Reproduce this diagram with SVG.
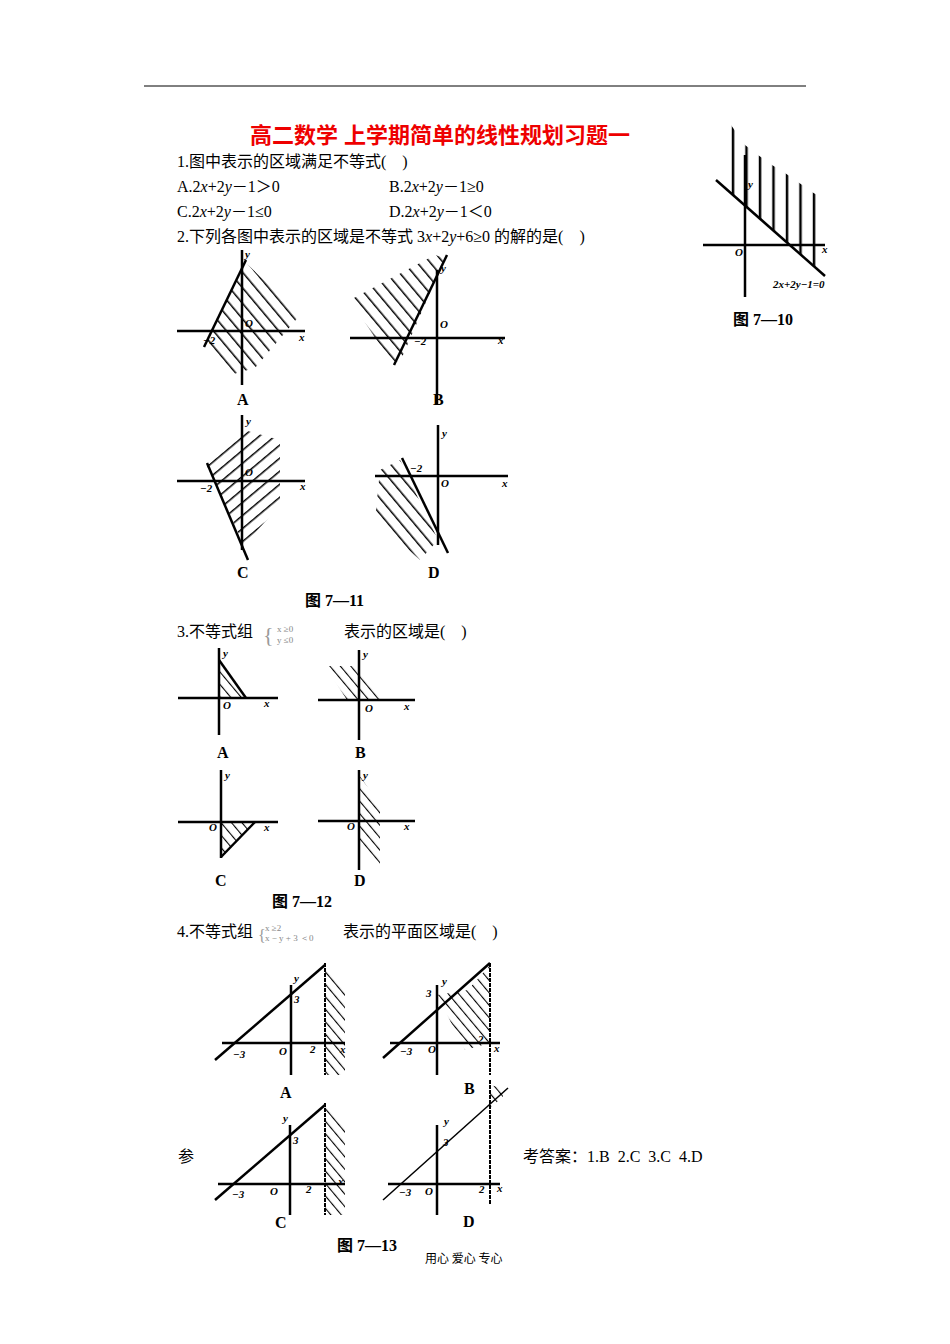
<svg xmlns="http://www.w3.org/2000/svg" width="950" height="1344" viewBox="0 0 950 1344" xml:space="preserve">
<style>
.t{font-family:"Liberation Serif","Noto Sans CJK SC",serif;font-size:16px;fill:#000;white-space:pre}
.ax{stroke:#000;stroke-width:2.5;fill:none}
.ln{stroke:#000;stroke-width:2.5;fill:none}
.lb{font-family:"Liberation Serif",serif;font-size:11px;font-weight:bold;font-style:italic;fill:#000}
.cap{font-family:"Liberation Serif","Noto Sans CJK SC",serif;font-size:16px;font-weight:bold;fill:#000}
.sm{font-family:"Liberation Serif",serif;font-size:9px;fill:#888}
</style>
<defs>
<pattern id="hb" width="10" height="10" patternUnits="userSpaceOnUse" patternTransform="rotate(-40)"><line x1="0" y1="0" x2="0" y2="10" stroke="#000" stroke-width="3"/></pattern>
<pattern id="hs" width="8" height="8" patternUnits="userSpaceOnUse" patternTransform="rotate(-40)"><line x1="0" y1="0" x2="0" y2="8" stroke="#000" stroke-width="2.2"/></pattern>
<pattern id="hf" width="10" height="10" patternUnits="userSpaceOnUse" patternTransform="rotate(50)"><line x1="0" y1="0" x2="0" y2="10" stroke="#000" stroke-width="3"/></pattern>
<pattern id="hv" width="13.5" height="10" patternUnits="userSpaceOnUse"><line x1="4" y1="0" x2="4" y2="10" stroke="#000" stroke-width="2.5"/></pattern>
</defs>
<rect width="950" height="1344" fill="#fff"/>
<line x1="144" y1="86" x2="806" y2="86" stroke="#000" stroke-width="1"/>
<text x="440" y="143" text-anchor="middle" font-family="Liberation Sans,Noto Sans CJK SC,sans-serif" font-size="22" font-weight="bold" fill="#e00">高二数学 上学期简单的线性规划习题一</text>
<text class="t" x="177" y="167">1.图中表示的区域满足不等式(    )</text>
<text class="t" x="177" y="192">A.2<tspan font-style="italic">x</tspan>+2<tspan font-style="italic">y</tspan>－1＞0</text>
<text class="t" x="389" y="192">B.2<tspan font-style="italic">x</tspan>+2<tspan font-style="italic">y</tspan>－1≥0</text>
<text class="t" x="177" y="217">C.2<tspan font-style="italic">x</tspan>+2<tspan font-style="italic">y</tspan>－1≤0</text>
<text class="t" x="389" y="217">D.2<tspan font-style="italic">x</tspan>+2<tspan font-style="italic">y</tspan>－1＜0</text>
<text class="t" x="177" y="242">2.下列各图中表示的区域是不等式 3<tspan font-style="italic">x</tspan>+2<tspan font-style="italic">y</tspan>+6≥0 的解的是(    )</text>

<g id="fig7-10">
<polygon points="731,125 731,193 825,275 825,200 812,192 798,182 785,173 772,165 758,155 745,145" fill="url(#hv)"/>
<line class="ax" x1="703" y1="245" x2="825" y2="245"/>
<line class="ax" x1="745" y1="155" x2="745" y2="297"/>
<line class="ln" x1="716" y1="180" x2="825" y2="276"/>
<text class="lb" x="735" y="256">O</text><text class="lb" x="822" y="253">x</text><text class="lb" x="748" y="188">y</text>
<text class="lb" x="773" y="288" font-size="9">2x+2y−1=0</text>
<text class="cap" x="733" y="325">图 7—10</text>
</g>

<g id="fig7-11A">
<polygon points="205,345 245,262 300,315 255,368 230,375" fill="url(#hb)"/>
<line class="ax" x1="177" y1="331" x2="305" y2="331"/><line class="ax" x1="242" y1="250" x2="242" y2="385"/>
<line class="ln" x1="204" y1="347" x2="246" y2="260"/>
<text class="lb" x="203" y="344">−2</text><text class="lb" x="245" y="327">O</text><text class="lb" x="299" y="341">x</text><text class="lb" x="245" y="258">y</text>
<text class="cap" x="237" y="405">A</text>
</g>
<g id="fig7-11B">
<polygon points="400,362 445,258 435,255 350,300 390,360" fill="url(#hb)"/>
<line class="ax" x1="350" y1="338" x2="505" y2="338"/><line class="ax" x1="437" y1="270" x2="437" y2="405"/>
<line class="ln" x1="394" y1="365" x2="447" y2="255"/>
<text class="lb" x="414" y="345">−2</text><text class="lb" x="440" y="328">O</text><text class="lb" x="498" y="344">x</text><text class="lb" x="441" y="272">y</text>
<text class="cap" x="433" y="405">B</text>
</g>
<g id="fig7-11C">
<polygon points="207,466 244,430 280,440 280,505 244,545" fill="url(#hf)"/>
<line class="ax" x1="177" y1="481" x2="305" y2="481"/><line class="ax" x1="242" y1="415" x2="242" y2="550"/>
<line class="ln" x1="207" y1="463" x2="248" y2="560"/>
<text class="lb" x="200" y="492">−2</text><text class="lb" x="245" y="476">O</text><text class="lb" x="300" y="490">x</text><text class="lb" x="246" y="425">y</text>
<text class="cap" x="237" y="578">C</text>
</g>
<g id="fig7-11D">
<polygon points="400,460 438,540 420,560 375,520 380,470" fill="url(#hb)"/>
<line class="ax" x1="375" y1="476" x2="508" y2="476"/><line class="ax" x1="438" y1="425" x2="438" y2="545"/>
<line class="ln" x1="402" y1="458" x2="448" y2="553"/>
<text class="lb" x="410" y="472">−2</text><text class="lb" x="441" y="487">O</text><text class="lb" x="502" y="487">x</text><text class="lb" x="442" y="437">y</text>
<text class="cap" x="428" y="578">D</text>
</g>
<text class="cap" x="305" y="606">图 7—11</text>

<text class="t" x="177" y="637">3.不等式组</text>
<text x="263" y="642" font-family="Liberation Serif,serif" font-size="22" fill="#999">{</text>
<text class="sm" x="277" y="632">x  ≥0</text><text class="sm" x="277" y="643">y  ≤0</text>
<text class="t" x="344" y="637">表示的区域是(    )</text>

<g id="fig7-12A">
<polygon points="219,660 219,698 246,698" fill="url(#hs)"/>
<line class="ax" x1="178" y1="698" x2="278" y2="698"/><line class="ax" x1="219" y1="648" x2="219" y2="735"/>
<line class="ln" x1="219" y1="660" x2="246" y2="698" stroke-width="1.5"/>
<text class="lb" x="223" y="709">O</text><text class="lb" x="264" y="707">x</text><text class="lb" x="223" y="657">y</text>
<text class="cap" x="217" y="758" font-size="13">A</text>
</g>
<g id="fig7-12B">
<polygon points="325,666 358,666 383,700 347,700" fill="url(#hs)"/>
<line class="ax" x1="318" y1="700" x2="415" y2="700"/><line class="ax" x1="359" y1="650" x2="359" y2="740"/>
<text class="lb" x="365" y="712">O</text><text class="lb" x="404" y="710">x</text><text class="lb" x="363" y="658">y</text>
<text class="cap" x="355" y="758" font-size="13">B</text>
</g>
<g id="fig7-12C">
<polygon points="221,822 255,822 221,858" fill="url(#hs)"/>
<line class="ax" x1="178" y1="822" x2="278" y2="822"/><line class="ax" x1="221" y1="770" x2="221" y2="858"/>
<line class="ln" x1="255" y1="822" x2="221" y2="857" stroke-width="1.5"/>
<text class="lb" x="209" y="831">O</text><text class="lb" x="264" y="831">x</text><text class="lb" x="225" y="779">y</text>
<text class="cap" x="215" y="886" font-size="13">C</text>
</g>
<g id="fig7-12D">
<polygon points="359,775 380,805 380,870 359,840" fill="url(#hs)"/>
<line class="ax" x1="318" y1="821" x2="415" y2="821"/><line class="ax" x1="359" y1="770" x2="359" y2="870"/>
<text class="lb" x="347" y="830">O</text><text class="lb" x="404" y="830">x</text><text class="lb" x="363" y="779">y</text>
<text class="cap" x="354" y="886" font-size="13">D</text>
</g>
<text class="cap" x="272" y="907" font-size="13">图 7—12</text>

<text class="t" x="177" y="937">4.不等式组</text>
<text x="258" y="941" font-family="Liberation Serif,serif" font-size="16" fill="#999">{</text>
<text class="sm" x="265" y="931" font-size="7">x ≥2</text><text class="sm" x="265" y="941" font-size="7">x − y + 3 ＜0</text>
<text class="t" x="343" y="937">表示的平面区域是(    )</text>

<g id="fig7-13A">
<polygon points="325,965 345,985 345,1075 325,1075" fill="url(#hs)"/>
<line class="ax" x1="222" y1="1043" x2="345" y2="1043" stroke-width="2"/><line class="ax" x1="291" y1="985" x2="291" y2="1075" stroke-width="2"/>
<line class="ln" x1="215" y1="1060" x2="325" y2="965" stroke-width="2"/>
<line x1="325" y1="963" x2="325" y2="1075" stroke="#000" stroke-width="2" stroke-dasharray="4,1"/>
<text class="lb" x="233" y="1058">−3</text><text class="lb" x="279" y="1055">O</text><text class="lb" x="310" y="1053">2</text><text class="lb" x="340" y="1053">x</text><text class="lb" x="294" y="982">y</text><text class="lb" x="294" y="1003">3</text>
<text class="cap" x="280" y="1098" font-size="13">A</text>
</g>
<g id="fig7-13B">
<polygon points="437,995 468,990 490,965 490,1043 465,1050" fill="url(#hs)"/>
<line class="ax" x1="390" y1="1043" x2="500" y2="1043" stroke-width="2"/><line class="ax" x1="437" y1="985" x2="437" y2="1075" stroke-width="2"/>
<line class="ln" x1="383" y1="1058" x2="490" y2="963" stroke-width="2"/>
<line x1="490" y1="963" x2="490" y2="1075" stroke="#000" stroke-width="2" stroke-dasharray="4,1"/>
<text class="lb" x="400" y="1055">−3</text><text class="lb" x="428" y="1053">O</text><text class="lb" x="478" y="1043">2</text><text class="lb" x="494" y="1052">x</text><text class="lb" x="442" y="985">y</text><text class="lb" x="426" y="997">3</text>
<text class="cap" x="464" y="1094" font-size="13">B</text>
</g>
<g id="fig7-13C">
<polygon points="325,1105 345,1125 345,1215 325,1215" fill="url(#hs)"/>
<line class="ax" x1="218" y1="1184" x2="345" y2="1184" stroke-width="2"/><line class="ax" x1="290" y1="1125" x2="290" y2="1215" stroke-width="2"/>
<line class="ln" x1="215" y1="1200" x2="325" y2="1105" stroke-width="2"/>
<line x1="325" y1="1103" x2="325" y2="1215" stroke="#000" stroke-width="2" stroke-dasharray="4,1"/>
<text class="lb" x="232" y="1198">−3</text><text class="lb" x="270" y="1195">O</text><text class="lb" x="306" y="1193">2</text><text class="lb" x="338" y="1185">x</text><text class="lb" x="283" y="1122">y</text><text class="lb" x="293" y="1144">3</text>
<text class="cap" x="275" y="1228" font-size="13">C</text>
</g>
<g id="fig7-13D">
<polygon points="490,1085 502,1088 503,1097 490,1108" fill="url(#hs)"/>
<line class="ax" x1="388" y1="1184" x2="500" y2="1184" stroke-width="2"/><line class="ax" x1="437" y1="1125" x2="437" y2="1215" stroke-width="2"/>
<line x1="383" y1="1200" x2="508" y2="1088" stroke="#000" stroke-width="1.5"/>
<line x1="490" y1="1080" x2="490" y2="1205" stroke="#000" stroke-width="2" stroke-dasharray="4,1"/>
<text class="lb" x="399" y="1196">−3</text><text class="lb" x="425" y="1195">O</text><text class="lb" x="479" y="1193">2</text><text class="lb" x="497" y="1192">x</text><text class="lb" x="444" y="1125">y</text><text class="lb" x="443" y="1146">3</text>
<text class="cap" x="463" y="1227" font-size="13">D</text>
</g>
<text class="cap" x="337" y="1251" font-size="14">图 7—13</text>

<text class="t" x="178" y="1162">参</text>
<text class="t" x="523" y="1162">考答案：1.B  2.C  3.C  4.D</text>
<text x="425" y="1263" font-family="Noto Sans CJK SC,sans-serif" font-size="12" fill="#000">用心  爱心  专心</text>
</svg>
